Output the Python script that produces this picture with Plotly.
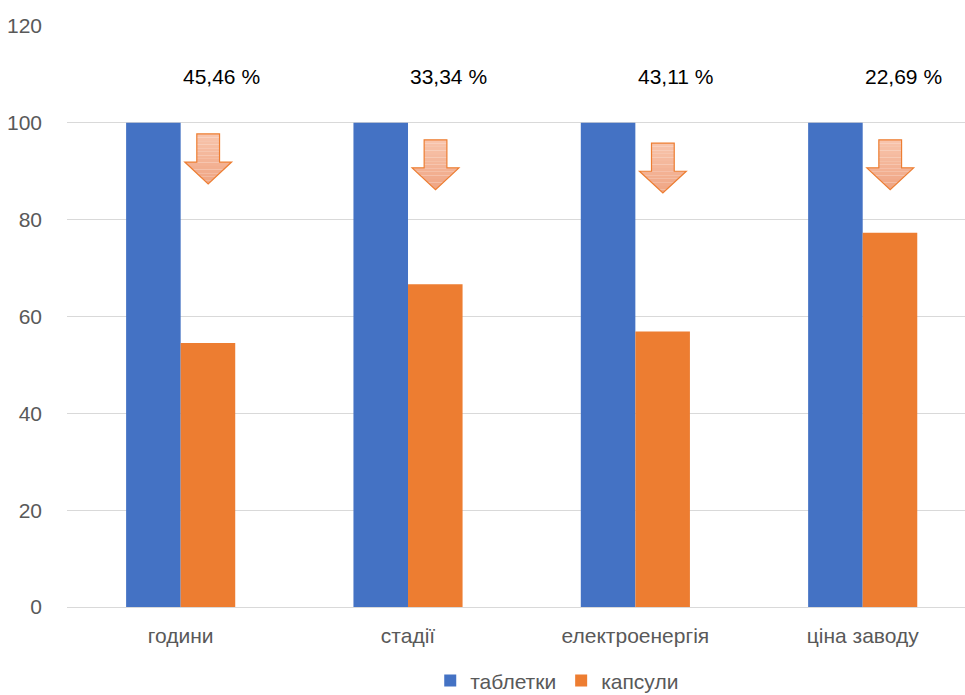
import plotly.graph_objects as go

# Порівняння показників: таблетки (базовий рівень 100) та капсули
categories = ["години", "стадії", "електроенергія", "ціна заводу"]
tablets = [100, 100, 100, 100]
reduction_pct = [45.46, 33.34, 43.11, 22.69]
capsules = [round(100 - p, 2) for p in reduction_pct]
pct_labels = [f"{p:.2f}".replace(".", ",") + " %" for p in reduction_pct]
y_ticks = [0, 20, 40, 60, 80, 100, 120]

BLUE = "#4472C4"
ORANGE = "#ED7D31"
FONT = "Liberation Sans, Arial, sans-serif"

fig = go.Figure()
fig.add_trace(go.Bar(name="таблетки", x=list(range(len(categories))), y=tablets,
                     marker=dict(color=BLUE, line=dict(width=0))))
fig.add_trace(go.Bar(name="капсули", x=list(range(len(categories))), y=capsules,
                     marker=dict(color=ORANGE, line=dict(width=0))))

# Стрілки зниження та підписи відсотків
arrow_drop = [0.0, 1.2, 1.9, 1.2]
for i, (lab, d) in enumerate(zip(pct_labels, arrow_drop)):
    cx = i + 0.121
    hw, sw = 0.103, 0.05
    top, neck, tip = 97.7 - d, 91.9 - d, 87.4 - d
    # градієнтна заливка смугами
    n = 14
    for k in range(n):
        y0 = top - (top - tip) * k / n
        y1 = top - (top - tip) * (k + 1) / n
        t = k / (n - 1)
        r = int(248 - 8 * t); g = int(196 - 30 * t); b = int(172 - 40 * t)
        col = f"rgb({r},{g},{b})"

        def half(y):
            if y >= neck:
                return sw
            return hw * (y - tip) / (neck - tip)
        if y0 >= neck and y1 >= neck:
            path = f"M{cx-sw},{y0} L{cx+sw},{y0} L{cx+sw},{y1} L{cx-sw},{y1} Z"
        elif y0 > neck > y1:
            path = (f"M{cx-sw},{y0} L{cx+sw},{y0} L{cx+sw},{neck} L{cx+hw},{neck} "
                    f"L{cx+half(y1)},{y1} L{cx-half(y1)},{y1} L{cx-hw},{neck} L{cx-sw},{neck} Z")
        else:
            path = (f"M{cx-half(y0)},{y0} L{cx+half(y0)},{y0} "
                    f"L{cx+half(y1)},{y1} L{cx-half(y1)},{y1} Z")
        fig.add_shape(type="path", path=path, xref="x", yref="y",
                      fillcolor=col, line=dict(width=0), layer="above")
    outline = (f"M{cx-sw},{top} L{cx+sw},{top} L{cx+sw},{neck} L{cx+hw},{neck} "
               f"L{cx},{tip} L{cx-hw},{neck} L{cx-sw},{neck} Z")
    fig.add_shape(type="path", path=outline, xref="x", yref="y",
                  fillcolor="rgba(0,0,0,0)", line=dict(color=ORANGE, width=1.2), layer="above")

    fig.add_annotation(x=i + 0.18, y=109.5, text=lab, showarrow=False, xref="x", yref="y",
                       font=dict(family=FONT, size=21, color="#000000"))

fig.update_layout(
    width=965, height=695,
    margin=dict(l=67, r=0, t=26, b=88, autoexpand=False),
    paper_bgcolor="white", plot_bgcolor="white",
    barmode="group", bargap=0.52, bargroupgap=0,
    font=dict(family=FONT, size=21, color="#595959"),
    showlegend=True,
    legend=dict(orientation="h", x=0.4045, xanchor="left", y=-0.127, yanchor="middle",
                font=dict(family=FONT, size=21, color="#595959"),
                itemwidth=30, tracegroupgap=0),
    xaxis=dict(range=[-0.5, 3.45], tickmode="array", tickvals=list(range(len(categories))),
               ticktext=categories, showgrid=False, zeroline=False, showline=False,
               ticks="", ticklabelstandoff=14, tickfont=dict(size=21, color="#595959")),
    yaxis=dict(range=[0, 120], tickvals=y_ticks, showgrid=True, gridcolor="#D9D9D9",
               gridwidth=1, zeroline=True, zerolinecolor="#D9D9D9", zerolinewidth=1,
               showline=False, ticks="", ticklabelstandoff=24,
               tickfont=dict(size=21, color="#595959")),
)

fig.write_html("out.html")
